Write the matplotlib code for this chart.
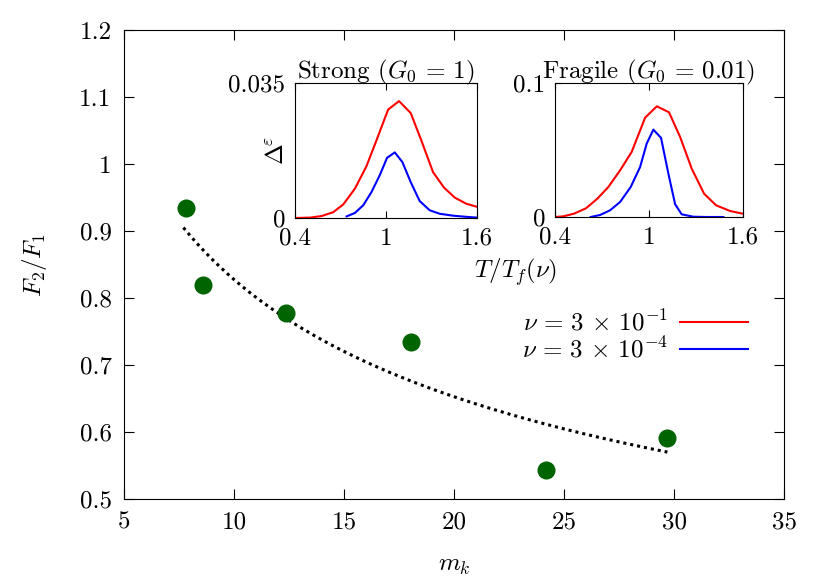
import numpy as np
import matplotlib
matplotlib.use('Agg')
import matplotlib.pyplot as plt

plt.rcParams['font.family'] = 'serif'
plt.rcParams['font.serif'] = ['cmr10', 'DejaVu Serif']
plt.rcParams['mathtext.fontset'] = 'cm'
plt.rcParams['axes.unicode_minus'] = False
plt.rcParams['font.size'] = 18

# main data: F2/F1 vs kinetic fragility
mk = [7.8, 8.6, 12.35, 18.05, 24.2, 29.7]
ratio = [0.934, 0.820, 0.778, 0.734, 0.543, 0.591]
fit_a, fit_b = 1.821, -0.3425   # power-law fit  a * m^b
fit_range = (7.7, 29.7)

# inset: strong (G0 = 1)
strong_T_hi = [0.4, 0.499, 0.575, 0.652, 0.718, 0.795, 0.871, 0.937, 1.014, 1.086,
               1.163, 1.233, 1.310, 1.382, 1.453, 1.529, 1.6]
strong_D_hi = [0.0, 0.0001, 0.0005, 0.0015, 0.0035, 0.0076, 0.0134, 0.0201, 0.0281, 0.0303,
               0.0272, 0.0201, 0.0119, 0.0079, 0.0053, 0.0037, 0.0029]
strong_T_lo = [0.740, 0.795, 0.850, 0.904, 0.959, 1.007, 1.058, 1.108, 1.163, 1.222,
               1.288, 1.354, 1.442, 1.529, 1.6]
strong_D_lo = [0.0004, 0.0013, 0.0033, 0.0067, 0.0111, 0.0156, 0.0170, 0.0145, 0.0093, 0.0044,
               0.0020, 0.0011, 0.0006, 0.0003, 0.0001]

# inset: fragile (G0 = 0.01)
frag_T_hi = [0.4, 0.453, 0.522, 0.598, 0.671, 0.741, 0.816, 0.890, 0.976, 1.051,
             1.129, 1.200, 1.274, 1.353, 1.430, 1.519, 1.6]
frag_D_hi = [0.0, 0.0005, 0.0025, 0.0065, 0.0137, 0.0224, 0.0348, 0.0485, 0.0741, 0.0826,
             0.0781, 0.0597, 0.0361, 0.0174, 0.0087, 0.0045, 0.0025]
frag_T_lo = [0.628, 0.688, 0.752, 0.816, 0.884, 0.944, 0.986, 1.029, 1.078, 1.125,
             1.168, 1.210, 1.285, 1.370, 1.477]
frag_D_lo = [0.0, 0.0015, 0.0050, 0.0112, 0.0224, 0.0373, 0.0547, 0.0652, 0.0590, 0.0323,
             0.0095, 0.0020, 0.0002, 0.0, 0.0]

fig = plt.figure(figsize=(8.3, 5.81), dpi=100)
ax = fig.add_axes([0.1494, 0.1411, 0.7952, 0.8073])

xf = np.linspace(fit_range[0], fit_range[1], 200)
ax.plot(xf, fit_a * xf ** fit_b, color='black', ls=(0, (1, 1.3)), lw=2.2)
ax.plot(mk, ratio, 'o', color='#006400', ms=13, mec='none')

ax.set_xlim(5, 35)
ax.set_ylim(0.5, 1.2)
ax.set_xticks(range(5, 36, 5))
ax.set_xticklabels([str(v) for v in range(5, 36, 5)])
yt = [0.5, 0.6, 0.7, 0.8, 0.9, 1.0, 1.1, 1.2]
ax.set_yticks(yt)
ax.set_yticklabels(['0.5', '0.6', '0.7', '0.8', '0.9', '1', '1.1', '1.2'])
ax.tick_params(direction='in', top=True, right=True, length=7, pad=9)
ax.set_xlabel(r'$m_k$', labelpad=15)
ax.set_ylabel(r'$F_2/F_1$', labelpad=22)

# legend handles
l1, = ax.plot([], [], color='red', lw=1.5, label=r'$\nu \,=\, 3 \,\times\, 10^{-1}$')
l2, = ax.plot([], [], color='blue', lw=1.5, label=r'$\nu \,=\, 3 \,\times\, 10^{-4}$')
ax.legend(handles=[l1, l2], loc='upper right', bbox_to_anchor=(0.96, 0.425),
          frameon=False, markerfirst=False, handlelength=2.7, handletextpad=0.5,
          labelspacing=0.05, borderaxespad=0)


def inset(rect, T_hi, D_hi, T_lo, D_lo, ymax, ylab, title):
    a = fig.add_axes(rect)
    a.plot(T_hi, D_hi, color='red', lw=1.5)
    a.plot(T_lo, D_lo, color='blue', lw=1.5)
    a.set_xlim(0.4, 1.6)
    a.set_ylim(0, ymax)
    a.set_xticks([0.4, 1, 1.6])
    a.set_xticklabels(['0.4', '1', '1.6'])
    a.set_yticks([0, ymax])
    a.set_yticklabels(['0', ylab])
    a.tick_params(direction='in', top=True, right=True, length=5, pad=7)
    a.set_title(title, fontsize=18, pad=3)
    return a


a1 = inset([0.3554, 0.6248, 0.2193, 0.2324], strong_T_hi, strong_D_hi,
           strong_T_lo, strong_D_lo, 0.035, '0.035', r'Strong ($G_0 \,=\, 1$)')
a1.set_ylabel(r'$\Delta^{\!\varepsilon}$', labelpad=-43)
a2 = inset([0.6687, 0.6265, 0.2261, 0.2307], frag_T_hi, frag_D_hi,
           frag_T_lo, frag_D_lo, 0.1, '0.1', r'Fragile ($G_0 \,=\, 0.01$)')

fig.text(516 / 830, 1 - 272 / 581, r'$T/T_f(\nu)$', ha='center', va='center', fontsize=18)

fig.savefig('out.png', dpi=100)
